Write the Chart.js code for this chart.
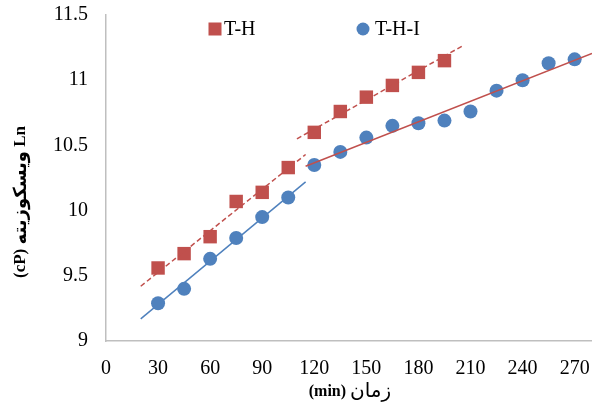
<!DOCTYPE html>
<html>
<head>
<meta charset="utf-8">
<script src="https://cdn.jsdelivr.net/npm/chart.js@4/dist/chart.umd.min.js"></script>
<style>
  html, body { margin: 0; padding: 0; background: #fff; }
  #wrap { width: 592px; height: 408px; }
</style>
</head>
<body>
<div id="wrap"><canvas id="chart" width="592" height="408"></canvas></div>
<script>
// time (min)
const timeTH = [30, 45, 60, 75, 90, 105, 120, 135, 150, 165, 180, 195];
const valuesTH = [9.56, 9.67, 9.80, 10.07, 10.14, 10.33, 10.60, 10.76, 10.87, 10.96, 11.06, 11.15];

const timeTHI = [30, 45, 60, 75, 90, 105, 120, 135, 150, 165, 180, 195, 210, 225, 240, 255, 270];
const valuesTHI = [9.29, 9.40, 9.63, 9.79, 9.95, 10.10, 10.35, 10.45, 10.56, 10.65, 10.67, 10.69, 10.76, 10.92, 11.00, 11.13, 11.16];

// trendline end points
const trendTH1X = [20, 115];
const trendTH1Y = [9.42, 10.43];
const trendTH2X = [110, 205];
const trendTH2Y = [10.55, 11.26];
const trendTHI1X = [20, 115];
const trendTHI1Y = [9.17, 10.22];
const trendTHI2X = [115, 280];
const trendTHI2Y = [10.34, 11.205];

const xTicks = [0, 30, 60, 90, 120, 150, 180, 210, 240, 270];
const yTicks = [9, 9.5, 10, 10.5, 11, 11.5];

const RED = "#C0504D";
const BLUE = "#4F81BD";
const SERIF = "'Liberation Serif', 'Times New Roman', serif";
const PERSIAN = "'Liberation Serif', 'DejaVu Sans', serif";

function pts(xs, ys) {
  return xs.map((x, i) => ({ x: x, y: ys[i] }));
}

function trend(xs, ys, color, dash) {
  return {
    type: "line",
    data: pts(xs, ys),
    borderColor: color,
    borderWidth: 1.5,
    borderDash: dash,
    pointRadius: 0,
    fill: false,
    order: 0,
  };
}

// legend and axis titles drawn in place, like the Excel layout
const extras = {
  id: "extras",
  afterDraw(chart) {
    const ctx = chart.ctx;
    ctx.save();
    ctx.textBaseline = "middle";

    // legend
    ctx.fillStyle = RED;
    ctx.fillRect(208.5, 22.5, 13, 13);
    ctx.fillStyle = BLUE;
    ctx.beginPath();
    ctx.arc(363, 29, 6.5, 0, Math.PI * 2);
    ctx.fill();
    ctx.fillStyle = "#000";
    ctx.font = "20px " + SERIF;
    ctx.textAlign = "left";
    ctx.fillText("T-H", 224, 30);
    ctx.fillText("T-H-I", 375, 30);

    // x title: (min) زمان
    const partA = "(min) ";
    const partB = "زمان";
    ctx.font = "bold 16px " + SERIF;
    const wA = ctx.measureText(partA).width;
    ctx.font = "20px " + PERSIAN;
    const wB = ctx.measureText(partB).width;
    let x0 = 350 - (wA + wB) / 2;
    ctx.font = "bold 16px " + SERIF;
    ctx.fillText(partA, x0, 392);
    ctx.font = "20px " + PERSIAN;
    ctx.fillText(partB, x0 + wA, 392);

    // y title: Ln ویسکوزیته (cP)
    ctx.translate(21, 202);
    ctx.rotate(-Math.PI / 2);
    const p1 = "(cP) ";
    const p2 = "ویسکوزیته";
    const p3 = " Ln";
    ctx.font = "bold 17px " + SERIF;
    const w1 = ctx.measureText(p1).width;
    const w3 = ctx.measureText(p3).width;
    ctx.font = "bold 18px " + PERSIAN;
    const w2 = ctx.measureText(p2).width;
    let s = -(w1 + w2 + w3) / 2;
    ctx.font = "bold 17px " + SERIF;
    ctx.fillText(p1, s, 0);
    ctx.font = "bold 18px " + PERSIAN;
    ctx.fillText(p2, s + w1, 0);
    ctx.font = "bold 17px " + SERIF;
    ctx.fillText(p3, s + w1 + w2, 0);
    ctx.restore();
  },
};

new Chart(document.getElementById("chart"), {
  type: "scatter",
  data: {
    datasets: [
      {
        label: "T-H",
        data: pts(timeTH, valuesTH),
        backgroundColor: RED,
        borderColor: RED,
        pointStyle: "rect",
        pointRadius: 9.5,
        borderWidth: 0,
        order: 1,
      },
      {
        label: "T-H-I",
        data: pts(timeTHI, valuesTHI),
        backgroundColor: BLUE,
        borderColor: BLUE,
        pointStyle: "circle",
        pointRadius: 7,
        borderWidth: 0,
        order: 1,
      },
      trend(trendTH1X, trendTH1Y, RED, [5, 3]),
      trend(trendTH2X, trendTH2Y, RED, [5, 3]),
      trend(trendTHI1X, trendTHI1Y, BLUE, []),
      trend(trendTHI2X, trendTHI2Y, RED, []),
    ],
  },
  options: {
    responsive: false,
    animation: false,
    layout: { autoPadding: false, padding: { top: 15, right: 0, left: 0, bottom: 0 } },
    plugins: {
      legend: { display: false },
      tooltip: { enabled: false },
    },
    scales: {
      x: {
        type: "linear",
        min: 0,
        max: 280,
        afterBuildTicks(scale) {
          scale.ticks = xTicks.map((v) => ({ value: v }));
        },
        afterFit(scale) {
          scale.height = 67;
          scale.paddingLeft = 0;
          scale.paddingRight = 0;
        },
        grid: { display: false, drawTicks: false },
        border: { display: true, color: "#BFBFBF", width: 1.5 },
        ticks: {
          padding: 16,
          color: "#000",
          font: { family: SERIF, size: 20 },
          maxRotation: 0,
          callback: (v) => String(v),
        },
      },
      y: {
        type: "linear",
        min: 9,
        max: 11.5,
        afterBuildTicks(scale) {
          scale.ticks = yTicks.map((v) => ({ value: v }));
        },
        afterFit(scale) {
          scale.width = 106;
          scale.paddingTop = 0;
          scale.paddingBottom = 0;
        },
        grid: { display: false, drawTicks: false },
        border: { display: true, color: "#BFBFBF", width: 1.5 },
        ticks: {
          padding: 18,
          color: "#000",
          font: { family: SERIF, size: 20 },
          callback: (v) => String(v),
        },
      },
    },
  },
  plugins: [extras],
});
</script>
</body>
</html>
